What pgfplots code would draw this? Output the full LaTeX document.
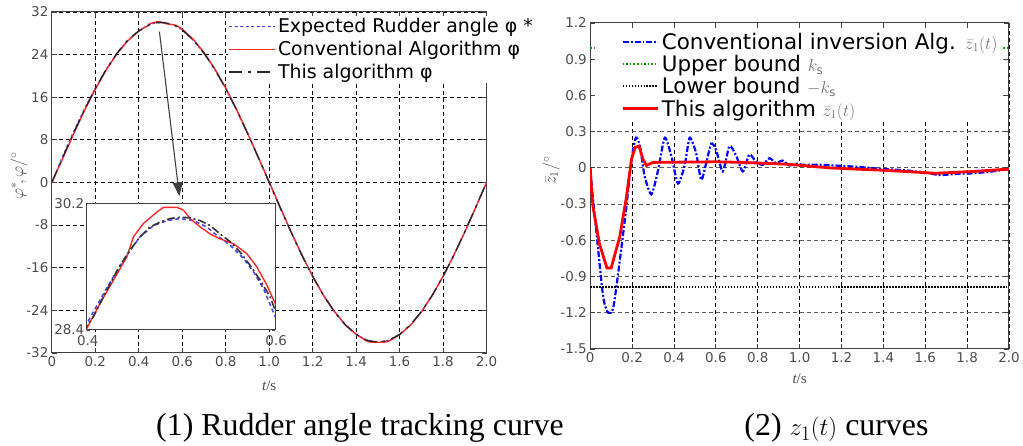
\documentclass[border=0pt]{standalone}
\usepackage{pgfplots}
\pgfplotsset{compat=1.18}
\usepackage{pgfplotstable}
\usepackage{fontspec}
\setmainfont{DejaVu Sans}
\newfontfamily\serif{Liberation Serif}
\usetikzlibrary{arrows.meta}

\newcommand\tickfont{\fontsize{13.5}{14}\selectfont}
\definecolor{cred}{RGB}{255,40,40}

% left: rudder angle
\pgfplotstableread{
t y
0 0
0.05 4.9
0.1 9.5
0.15 13.8
0.2 17.7
0.25 21.2
0.3 24.27
0.35 26.73
0.4 28.49
0.4142 28.83
0.4283 29.16
0.4425 29.47
0.4566 29.73
0.4708 29.89
0.485 29.96
0.4991 29.99
0.5133 29.96
0.5274 29.87
0.5381 29.75
0.5522 29.61
0.5664 29.42
0.577 29.23
0.5876 28.99
0.6 28.59
0.65 26.73
0.7 24.27
0.75 21.21
0.8 17.63
0.85 13.62
0.9 9.27
0.95 4.69
1.0 0
1.05 -4.69
1.1 -9.27
1.15 -13.62
1.2 -17.63
1.25 -21.21
1.3 -24.27
1.35 -26.73
1.4 -28.53
1.45 -29.63
1.5 -30
1.55 -29.63
1.6 -28.53
1.65 -26.73
1.7 -24.27
1.75 -21.21
1.8 -17.63
1.85 -13.62
1.9 -9.27
1.95 -4.69
2.0 0
}\expTab

\pgfplotstableread{
t y
0 0
0.05 4.5
0.1 9.1
0.15 13.5
0.2 17.5
0.25 21.1
0.3 24.2
0.35 26.6
0.4 28.42
0.4142 28.78
0.4283 29.11
0.4425 29.44
0.4496 29.73
0.4602 29.92
0.4743 30.08
0.4814 30.15
0.4956 30.15
0.5027 30.11
0.5097 29.99
0.5204 29.87
0.531 29.77
0.5416 29.70
0.5558 29.63
0.5699 29.49
0.5805 29.30
0.5912 29.04
0.6 28.78
0.65 26.9
0.7 24.4
0.75 21.3
0.8 17.7
0.85 13.7
0.9 9.3
0.95 4.7
1.0 0.1
1.05 -4.6
1.1 -9.2
1.15 -13.6
1.2 -17.6
1.25 -21.2
1.3 -24.2
1.35 -26.7
1.4 -28.5
1.45 -29.8
1.47 -30
1.53 -30
1.55 -29.8
1.6 -28.6
1.65 -26.8
1.7 -24.3
1.75 -21.2
1.8 -17.6
1.85 -13.6
1.9 -9.3
1.95 -4.7
2.0 0
}\convTab

\pgfplotstableread{
t y
0 0
0.05 4.7
0.1 9.27
0.15 13.62
0.2 17.63
0.25 21.21
0.3 24.27
0.35 26.73
0.4 28.45
0.4071 28.59
0.4212 28.97
0.4354 29.32
0.446 29.54
0.4566 29.73
0.4673 29.87
0.4779 29.94
0.4885 29.99
0.4991 30.01
0.5097 30.0
0.5204 29.96
0.531 29.89
0.5416 29.77
0.5522 29.66
0.5628 29.51
0.5735 29.32
0.5841 29.11
0.5947 28.87
0.6 28.68
0.65 26.73
0.7 24.27
0.75 21.21
0.8 17.63
0.85 13.62
0.9 9.27
0.95 4.69
1.0 0
1.05 -4.69
1.1 -9.27
1.15 -13.62
1.2 -17.63
1.25 -21.21
1.3 -24.27
1.35 -26.73
1.4 -28.53
1.45 -29.63
1.5 -30
1.55 -29.63
1.6 -28.53
1.65 -26.73
1.7 -24.27
1.75 -21.21
1.8 -17.63
1.85 -13.62
1.9 -9.27
1.95 -4.69
2.0 0
}\thisTab

% right: z1(t)
\pgfplotstableread{
t z
0 0
0.01 -0.2
0.03 -0.54
0.062 -1.07
0.086 -1.20
0.11 -1.16
0.141 -0.77
0.173 -0.32
0.197 0.07
0.218 0.25
0.237 0.18
0.26 -0.07
0.292 -0.22
0.324 -0.02
0.356 0.25
0.387 0.10
0.419 -0.13
0.451 0.02
0.475 0.25
0.506 0.12
0.53 -0.10
0.554 0.04
0.578 0.20
0.601 0.15
0.633 -0.03
0.665 0.18
0.697 0.10
0.729 -0.03
0.76 0.11
0.792 0.05
0.824 0.025
0.856 0.08
0.887 0.04
0.919 0.06
0.951 0.02
0.983 0.035
1.014 0.025
1.10 0.025
1.26 0.01
1.40 -0.01
1.50 -0.02
1.60 -0.04
1.67 -0.06
1.75 -0.05
1.83 -0.045
1.92 -0.03
2.0 -0.01
}\zconv

\pgfplotstableread{
t z
0 0
0.005 -0.15
0.013 -0.32
0.044 -0.63
0.08 -0.83
0.10 -0.83
0.141 -0.57
0.173 -0.24
0.197 0.07
0.215 0.17
0.233 0.18
0.252 0.07
0.268 0.02
0.30 0.045
0.60 0.05
0.73 0.045
0.94 0.03
1.14 0.0
1.26 -0.01
1.40 -0.02
1.65 -0.045
1.83 -0.03
2.0 -0.01
}\zthis

\pgfplotsset{
  myax/.style={
    scale only axis, anchor=south west,
    axis line style={draw=black!75, line width=1pt},
    tick style={draw=black!75, line width=0.8pt},
    major tick length=5pt, tick align=inside,
    xmajorgrids, ymajorgrids,
    grid style={dash pattern=on 4pt off 3pt, black, line width=0.9pt},
    ticklabel style={font=\tickfont, text=black!70},
    xtick={0,0.2,0.4,0.6,0.8,1.0,1.2,1.4,1.6,1.8,2.0},
    xticklabels={0,0.2,0.4,0.6,0.8,1.0,1.2,1.4,1.6,1.8,2.0},
    xmin=0, xmax=2,
    legend cell align=left,
  },
}

\begin{document}
\begin{tikzpicture}
\path (0pt,0pt) rectangle (1023pt,445pt);

% ---------- left panel ----------
\begin{axis}[myax,
  at={(52pt,91pt)}, width=436pt, height=342pt,
  ymin=-32, ymax=32,
  ytick={-32,-24,-16,-8,0,8,16,24,32},
  yticklabels={-32,-24,-16,-8,0,8,16,24,32},
  xlabel={\serif\itshape t\upshape/s},
  xlabel style={at={(axis description cs:0.5,-0.0965)}, anchor=center, font=\fontsize{15}{15}\selectfont, text=black!70},
  ylabel={$\varphi^{*}\!,\varphi/^{\circ}$},
  ylabel style={at={(axis description cs:-0.0757,0.52)}, anchor=center, font=\fontsize{18}{18}\selectfont, text=black!70},
  legend image code/.code={\draw[#1] (0pt,0pt) -- (46pt,0pt);},
  legend image post style={line width=1.5pt},
  legend style={at={(0.404,0.99)}, anchor=north west, draw=none, fill=white,
    inner sep=1pt, row sep=3pt, font=\fontsize{19}{20}\selectfont},
]
\addplot[blue!75, line width=1.3pt, dash pattern=on 3pt off 2.5pt] table {\expTab};
\addlegendentry{Expected Rudder angle φ *}
\addplot[cred, line width=1.4pt] table {\convTab};
\addlegendentry{Conventional Algorithm φ}
\addplot[black!85, line width=1.3pt, dash pattern=on 13pt off 6pt on 3pt off 6pt] table {\thisTab};
\addlegendentry{This algorithm φ}
\draw[-{Triangle[length=14pt,width=10pt]}, black!75, line width=1.1pt]
  (axis cs:0.495,28.3) -- (axis cs:0.587,-2.6);
\end{axis}

% inset
\begin{axis}[scale only axis, anchor=south west,
  at={(87pt,114pt)}, width=189pt, height=126.5pt,
  xmin=0.4, xmax=0.6, ymin=28.4, ymax=30.2,
  axis background/.style={fill=white},
  axis line style={draw=black!75, line width=1pt},
  tick style={draw=black!75, line width=0.8pt},
  major tick length=3pt, tick align=inside,
  xtick={0.4,0.6}, xticklabels={0.4,0.6},
  ytick={28.4,30.2}, yticklabels={28.4,30.2},
  ticklabel style={font=\tickfont, text=black!70},
  xticklabel style={yshift=-2pt, xshift=1pt},
  yticklabel style={xshift=1pt},
]
\addplot[blue!75, line width=1.5pt, dash pattern=on 4pt off 3pt] table {\expTab};
\addplot[cred, line width=1.4pt] table {\convTab};
\addplot[black!80, line width=1.6pt, dash pattern=on 8pt off 3pt on 2pt off 3pt] table {\thisTab};
\end{axis}

% ---------- right panel ----------
\begin{axis}[myax,
  at={(592pt,95pt)}, width=420pt, height=327pt,
  ymin=-1.5, ymax=1.2,
  ytick={-1.5,-1.2,-0.9,-0.6,-0.3,0,0.3,0.6,0.9,1.2},
  yticklabels={-1.5,-1.2,-0.9,-0.6,-0.3,0,0.3,0.6,0.9,1.2},
  y grid style={dash pattern=on 4pt off 3pt, black!65, line width=1pt},
  xlabel={\serif\itshape t\upshape/s},
  xlabel style={at={(axis description cs:0.5,-0.0917)}, anchor=center, font=\fontsize{15}{15}\selectfont, text=black!70},
  ylabel={$\bar{z}_1/^{\circ}$},
  ylabel style={at={(axis description cs:-0.0929,0.547)}, anchor=center, font=\fontsize{18}{18}\selectfont, text=black!70},
  legend image code/.code={\draw[#1] (0pt,0pt) -- (36pt,0pt);},
  legend style={at={(0.071,0.979)}, anchor=north west, draw=none, fill=white,
    inner sep=1pt, row sep=0.5pt, font=\fontsize{21.5}{22}\selectfont},
]
\addplot[blue, line width=2.2pt, dash pattern=on 6pt off 2pt on 2pt off 2pt, smooth, tension=0.4] table {\zconv};
\addlegendentry{Conventional inversion Alg. {\color{black!55}\fontsize{17}{17}\selectfont$\bar{z}_1(t)$}}
\addplot[green!60!black, line width=1.6pt, dotted] coordinates {(0,0.99) (2,0.99)};
\addlegendentry{Upper bound {\color{black!55}\fontsize{17}{17}\selectfont$k_{\mathrm{s}}$}}
\addplot[black, line width=2pt, dash pattern=on 1.5pt off 1.5pt] coordinates {(0,-0.99) (2,-0.99)};
\addlegendentry{Lower bound {\color{black!55}\fontsize{17}{17}\selectfont$-k_{\mathrm{s}}$}}
\addplot[red, line width=2.8pt] table {\zthis};
\addlegendentry{This algorithm {\color{black!55}\fontsize{17}{17}\selectfont$\bar{z}_1(t)$}}
% white panel behind the legend
\fill[white] (rel axis cs:0.015,0.703) rectangle (rel axis cs:0.985,0.979);
\end{axis}

% captions
\node[anchor=base, font=\serif\fontsize{32}{32}\selectfont] at (361pt,8pt) {(1) Rudder angle tracking curve};
\node[anchor=base, font=\serif\fontsize{32}{32}\selectfont] at (839pt,8pt) {(2) $z_1\bigl(t\bigr)$ curves};
\end{tikzpicture}
\end{document}
